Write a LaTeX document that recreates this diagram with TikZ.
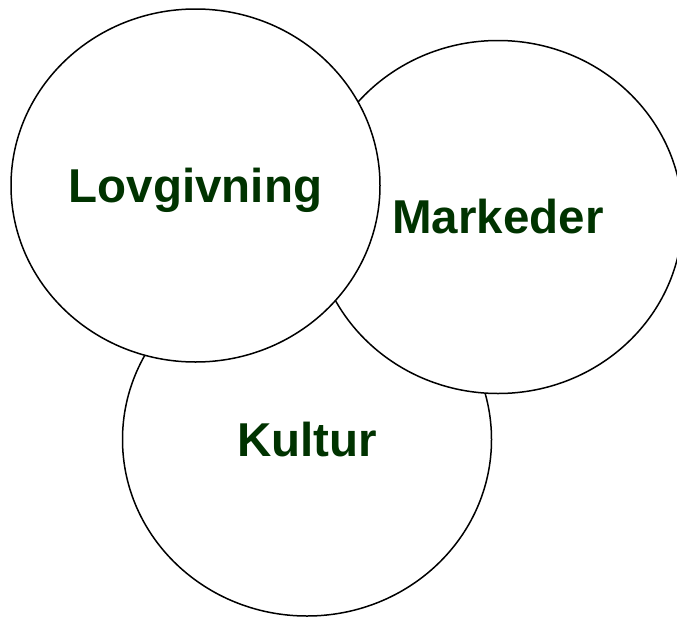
\documentclass[tikz,border=0pt]{standalone}
\usepackage{fontspec}
\setmainfont{Liberation Sans}
\usetikzlibrary{shapes.geometric}
\definecolor{labelgreen}{RGB}{0,51,0}
\tikzset{
  area/.style={ellipse, draw=black, line width=1.5pt, fill=white,
    minimum width=369pt, minimum height=353pt, inner sep=0pt,
    text=labelgreen, font=\fontsize{47.5}{50}\selectfont\bfseries,
    text height=33pt, text depth=-5pt}
}
\begin{document}
\begin{tikzpicture}[x=1pt,y=-1pt]
   \useasboundingbox (0,0) rectangle (677,616);
   \node[area] (kultur) at (307,439.5) {Kultur};
   \node[area] (markeder) at (498,217) {Markeder};
   \node[area] (lovgivning) at (195.5,185.5) {Lovgivning};
\end{tikzpicture}
\end{document}
